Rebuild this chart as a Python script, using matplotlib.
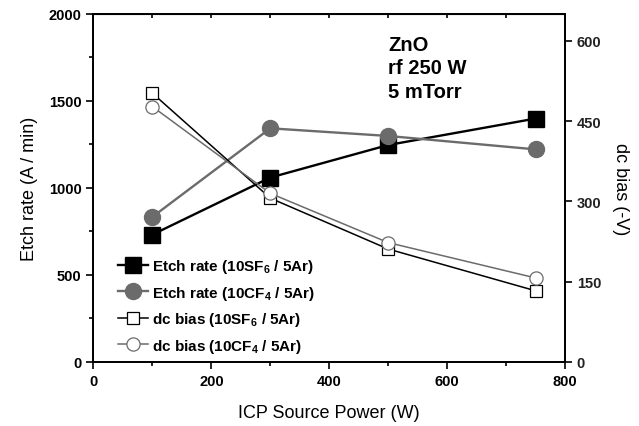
#!/usr/bin/env python3
"""ICP source power dependence of ZnO etch rate and dc bias."""
import matplotlib
matplotlib.use("Agg")
import matplotlib.pyplot as plt
from matplotlib.ticker import MultipleLocator

plt.rcParams["font.family"] = ["Liberation Sans", "DejaVu Sans"]
plt.rcParams["mathtext.default"] = "regular"

power = [100, 300, 500, 750]
etch_sf6 = [732, 1060, 1247, 1399]
etch_cf4 = [834, 1343, 1299, 1222]
bias_sf6 = [502, 306, 211, 133]
bias_cf4 = [477, 315, 223, 157]

GRAY = "#6b6b6b"

fig = plt.figure(figsize=(6.39, 4.27), dpi=100)
ax = fig.add_axes([0.1463, 0.1499, 0.7379, 0.8150])
ax2 = ax.twinx()

l1, = ax.plot(power, etch_sf6, "-s", color="black", lw=1.7, ms=11, mfc="black", mec="black",
              label="Etch rate (10SF$_6$ / 5Ar)", zorder=3)
l2, = ax.plot(power, etch_cf4, "-o", color=GRAY, lw=1.7, ms=11.5, mfc=GRAY, mec=GRAY,
              label="Etch rate (10CF$_4$ / 5Ar)", zorder=3)
l3, = ax2.plot(power, bias_sf6, "-s", color="black", lw=1.1, ms=9, mfc="white", mec="black",
               mew=0.9, label="dc bias (10SF$_6$ / 5Ar)", zorder=3)
l4, = ax2.plot(power, bias_cf4, "-o", color=GRAY, lw=1.1, ms=9.5, mfc="white", mec=GRAY,
               mew=0.9, label="dc bias (10CF$_4$ / 5Ar)", zorder=3)

ax.set_xlim(0, 800)
ax.set_ylim(0, 2000)
ax2.set_ylim(0, 650)
ax.xaxis.set_major_locator(MultipleLocator(200))
ax.xaxis.set_minor_locator(MultipleLocator(100))
ax.yaxis.set_major_locator(MultipleLocator(500))
ax.yaxis.set_minor_locator(MultipleLocator(250))
ax2.yaxis.set_major_locator(MultipleLocator(150))

for a in (ax, ax2):
    for s in a.spines.values():
        s.set_linewidth(1.3)
ax.tick_params(axis="both", which="major", direction="out", length=5, width=1.2,
               labelsize=10.5, labelcolor="black")
ax.tick_params(axis="both", which="minor", direction="out", length=3, width=1.2)
ax2.tick_params(axis="y", which="major", direction="out", length=5, width=1.2,
                labelsize=10.5, labelcolor="#222222")
for lab in ax.get_xticklabels() + ax.get_yticklabels() + ax2.get_yticklabels():
    lab.set_fontweight("bold")

# inward ticks along the top
top = ax.secondary_xaxis("top")
top.xaxis.set_major_locator(MultipleLocator(100))
top.tick_params(direction="in", length=3, width=1.2, labeltop=False)

ax.set_xlabel("ICP Source Power (W)", fontsize=13, labelpad=12)
ax.set_ylabel("Etch rate (A / min)", fontsize=13, labelpad=8)
ax2.set_ylabel("dc bias (-V)", fontsize=13, rotation=270, labelpad=20)

ax.text(500, 1880, "ZnO\nrf 250 W\n5 mTorr", fontsize=14.5, fontweight="bold",
        va="top", ha="left", linespacing=1.3)

leg = ax.legend(handles=[l1, l2, l3, l4], loc="lower left", bbox_to_anchor=(0.022, -0.018),
                frameon=False, fontsize=11, handlelength=2.0, handletextpad=0.25,
                labelspacing=0.55, borderaxespad=0.5)
for t in leg.get_texts():
    t.set_fontweight("bold")

fig.savefig("out.png", dpi=100)
plt.close(fig)
